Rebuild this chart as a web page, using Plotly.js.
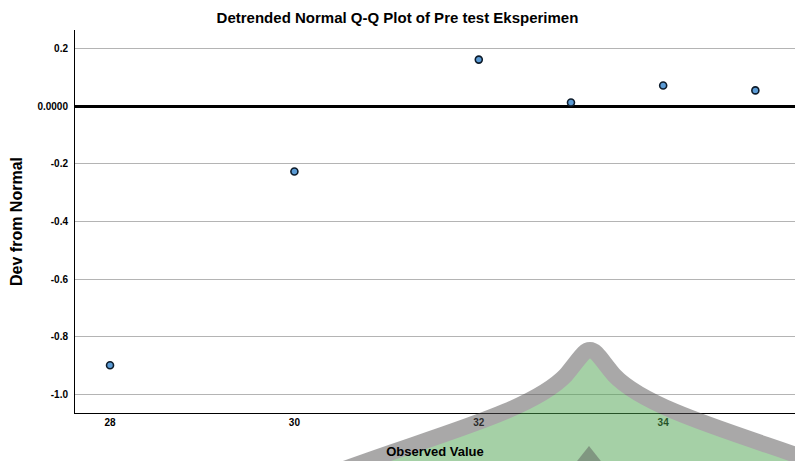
<!DOCTYPE html>
<html>
<head>
<meta charset="utf-8">
<script src="https://cdn.plot.ly/plotly-3.0.1.min.js"></script>
<style>
html,body{margin:0;padding:0;background:#fff;}
#chart{width:795px;height:461px;}
</style>
</head>
<body>
<div id="chart"></div>
<script>
// Data
const observedValue = [28, 30, 32, 33, 34, 35];
const devFromNormal = [-0.90, -0.226, 0.163, 0.014, 0.073, 0.056];
const xTickVals = [28, 30, 32, 34];
const xTickText = ['28', '30', '32', '34'];
const yTickVals = [0.2, 0, -0.2, -0.4, -0.6, -0.8, -1.0];
const yTickText = ['0.2', '0.0000', '-0.2', '-0.4', '-0.6', '-0.8', '-1.0'];

const W = 795, H = 461;
const M = {l: 75, r: 0, t: 30, b: 48};
const pw = W - M.l - M.r, ph = H - M.t - M.b;
// watermark decoration (page pixels -> paper coords)
function px(x){ return ((x - M.l) / pw).toFixed(4); }
function py(y){ return ((H - M.b - y) / ph).toFixed(4); }
function P(x, y){ return px(x) + ',' + py(y); }
const leafPath = 'M' + P(310, 482) +
  ' C' + P(415, 440) + ' ' + P(528, 415) + ' ' + P(566, 375) +
  ' C' + P(580, 358) + ' ' + P(584, 350) + ' ' + P(590, 350) +
  ' C' + P(596, 350) + ' ' + P(600, 358) + ' ' + P(614, 375) +
  ' C' + P(652, 415) + ' ' + P(765, 440) + ' ' + P(870, 482) + ' Z';
const triPath = 'M' + P(589, 446) + ' L' + P(566, 475) + ' L' + P(612, 475) + ' Z';

const font = 'Liberation Sans, Arial, sans-serif';

const trace = {
  x: observedValue,
  y: devFromNormal,
  type: 'scatter',
  mode: 'markers',
  marker: {size: 7, color: '#5b9bd5', line: {color: '#0d1b2a', width: 1.6}},
  hoverinfo: 'x+y'
};

const layout = {
  width: W, height: H,
  margin: M,
  paper_bgcolor: '#ffffff',
  plot_bgcolor: '#ffffff',
  showlegend: false,
  font: {family: font, color: '#000'},
  title: {
    text: '<b>Detrended Normal Q-Q Plot of Pre test Eksperimen</b>',
    font: {family: font, size: 15, color: '#000', weight: 'bold'},
    x: 0.5, xref: 'container', xanchor: 'center',
    y: 0.962, yref: 'container', yanchor: 'middle'
  },
  xaxis: {
    range: [27.62, 35.43],
    tickvals: xTickVals, ticktext: xTickText,
    tickfont: {family: font, size: 10, color: '#000', weight: 'bold'},
    showgrid: false, zeroline: false,
    showline: true, linecolor: '#000', linewidth: 1,
    ticks: '',
    title: {text: 'Observed Value', font: {family: font, size: 13, color: '#000', weight: 'bold'}, standoff: 19}
  },
  yaxis: {
    range: [-1.066, 0.266],
    tickvals: yTickVals, ticktext: yTickText,
    tickfont: {family: font, size: 10, color: '#000', weight: 'bold'},
    ticklabelstandoff: 4,
    showgrid: true, gridcolor: '#b4b4b4', gridwidth: 1,
    zeroline: true, zerolinecolor: '#000', zerolinewidth: 3,
    showline: true, linecolor: '#000', linewidth: 1,
    ticks: '',
    title: {text: 'Dev from Normal', font: {family: font, size: 16, color: '#000', weight: 'bold'}, standoff: 10}
  },
  shapes: [
    {type: 'path', xref: 'paper', yref: 'paper', path: leafPath, layer: 'above',
     fillcolor: 'rgb(77,163,79)', line: {color: 'rgb(85,83,84)', width: 16}, opacity: 0.5},
    {type: 'path', xref: 'paper', yref: 'paper', path: triPath, layer: 'above',
     fillcolor: 'rgb(85,83,84)', line: {width: 0}, opacity: 0.45}
  ]
};

Plotly.newPlot('chart', [trace], layout, {displayModeBar: false, staticPlot: true});
</script>
</body>
</html>
